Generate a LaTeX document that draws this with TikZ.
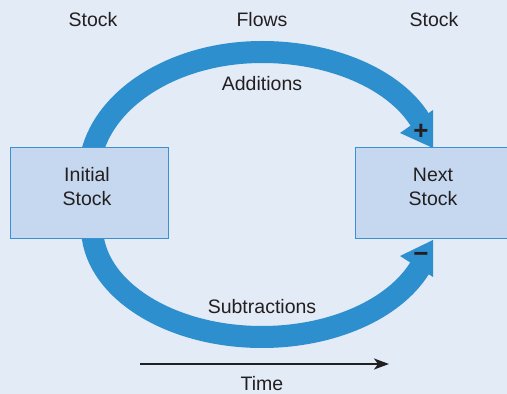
\documentclass[tikz,border=0pt]{standalone}
\usepackage{fontspec}
\setmainfont{Liberation Sans}
\usetikzlibrary{arrows.meta}
\definecolor{bg}{RGB}{227,235,247}
\definecolor{band}{RGB}{46,143,206}
\definecolor{boxfill}{RGB}{197,216,239}
\definecolor{boxline}{RGB}{61,143,207}
\definecolor{ink}{RGB}{35,31,32}
\begin{document}
\begin{tikzpicture}[x=1pt,y=1pt,
  lbl/.style={text=ink,font=\fontsize{19.5}{24}\selectfont,inner sep=0pt,align=center},
  signlbl/.style={text=ink,font=\fontsize{26}{26}\selectfont\bfseries,inner sep=0pt},
  stockbox/.style={draw=boxline,line width=1pt,fill=boxfill,minimum width=158pt,minimum height=91pt,inner sep=0pt},
  flowband/.style={draw=band,line width=22pt},
  flowhead/.style={fill=band}]
\useasboundingbox (0,0) rectangle (507,394);
\fill[bg] (0,0) rectangle (507,394);
% flows
\draw[flowband] (89.2,219) arc[start angle=180,end angle=90,x radius=172.8,y radius=123]
  arc[start angle=90,end angle=21.8,x radius=170,y radius=108];
\fill[flowhead] (433,246) -- (400,261) -- (433,284) -- cycle;
\draw[flowband] (92,167) arc[start angle=180,end angle=338.2,x radius=170,y radius=110];
\fill[flowhead] (433,154) -- (400,138) -- (433,117) -- cycle;
% stocks
\node[stockbox] (init) at (89,200.5) {};
\node[stockbox,minimum width=153pt] (next) at (432,200.5) {};
\node[lbl] (initlbl) at (87,207) {Initial\\Stock};
\node[lbl] (nextlbl) at (433,207) {Next\\Stock};
% labels
\node[lbl] (stockL) at (93,374) {Stock};
\node[lbl] (flows) at (262,374) {Flows};
\node[lbl] (stockR) at (434,374) {Stock};
\node[lbl] (add) at (262,310) {Additions};
\node[lbl] (sub) at (262,87) {Subtractions};
\node[lbl] (time) at (262,10) {Time};
\node[signlbl] (plus) at (421,262) {+};
\node[signlbl] (minus) at (421,137) {−};
% time arrow
\coordinate (t0) at (140,30);
\coordinate (t1) at (389,30);
\draw[ink,line width=2pt,-{Stealth[length=15pt,width=11pt,inset=4pt]}] (t0) -- (t1);
\end{tikzpicture}
\end{document}
